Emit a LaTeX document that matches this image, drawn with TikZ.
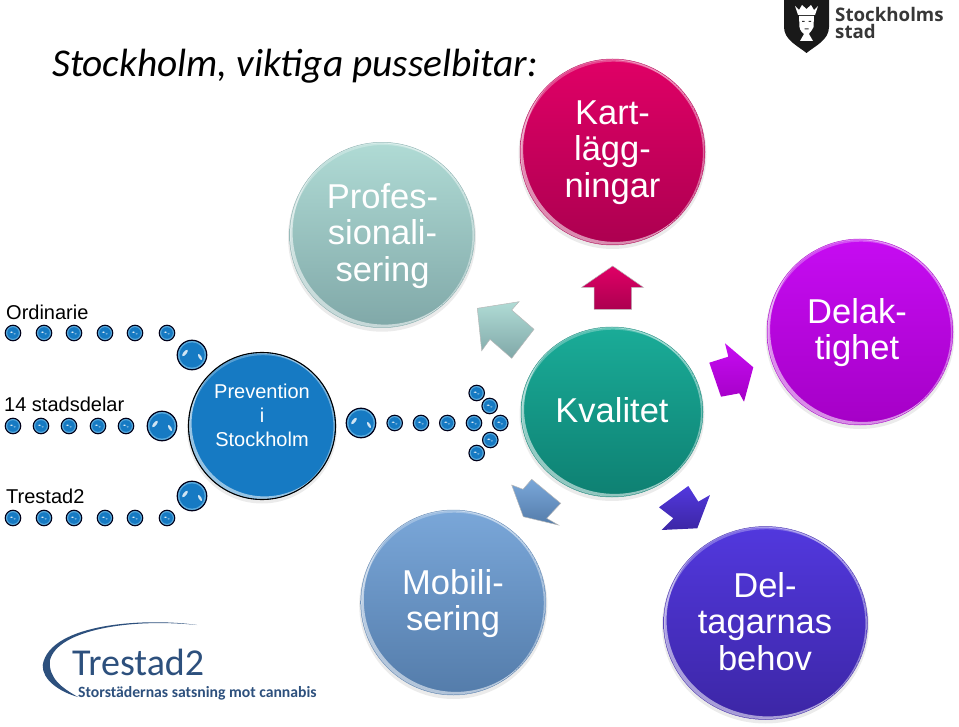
\documentclass[tikz,border=0pt]{standalone}
\usepackage{fontspec}
\setmainfont{Liberation Sans}
\newfontfamily\carlito{Carlito}
\newfontfamily\logofont{Open Sans}
\usetikzlibrary{shapes.geometric,calc}
\definecolor{dotblue}{RGB}{22,122,195}
\definecolor{dotrim}{RGB}{90,170,220}
\definecolor{logoblue}{RGB}{45,80,125}
\definecolor{logogray}{RGB}{55,55,55}
\definecolor{kartA}{RGB}{224,0,102}
\definecolor{kartB}{RGB}{172,0,80}
\definecolor{profA}{RGB}{176,219,213}
\definecolor{profB}{RGB}{128,168,168}
\definecolor{delA}{RGB}{198,12,242}
\definecolor{delB}{RGB}{165,0,198}
\definecolor{kvaA}{RGB}{26,172,152}
\definecolor{kvaB}{RGB}{14,128,114}
\definecolor{mobA}{RGB}{122,167,217}
\definecolor{mobB}{RGB}{84,124,170}
\definecolor{deltA}{RGB}{82,56,222}
\definecolor{deltB}{RGB}{60,38,165}
\tikzset{
  bigtext/.style={text=white,align=center,font=\fontsize{34.5}{36.5}\selectfont},
  smalltext/.style={text=white,align=center,font=\fontsize{20}{24}\selectfont},
  lab/.style={text=black,anchor=base west,inner sep=0pt,font=\fontsize{20}{24}\selectfont},
  bevel/.style={draw=white!72!black,line width=.5pt},
  sdot/.style={circle,draw=black!90!blue,line width=1.1pt,minimum size=15.5pt,inner sep=0pt,fill=dotrim},
  bdot/.style={circle,draw=black!90!blue,line width=1.2pt,minimum size=29.5pt,inner sep=0pt,fill=dotrim},
}
% crescent highlight: x, y, rx, ry, dx, dy, opacity (the part of the disc not covered by the disc moved by dx, dy)
\newcommand{\Cres}[7]{%
  \begin{scope}
    \clip (#1,#2) ellipse [x radius=#3-.5,y radius=#4-.5];
    \fill[white,opacity=#7,even odd rule] (#1,#2) ellipse [x radius=#3-.5,y radius=#4-.5]
      ({#1+(#5)},{#2+(#6)}) ellipse [x radius=#3-.5,y radius=#4-.5];
  \end{scope}
}
% ball: name, x, y, rx, ry, top colour, bottom colour
\newcommand{\Ball}[7]{%
  \fill[black,opacity=.08] (#2,#3+2.5) ellipse [x radius=#4+1.5,y radius=#5+1.5];
  \node[ellipse,minimum width=2*#4 pt,minimum height=2*#5 pt,inner sep=0pt,top color=#6,bottom color=#7,draw=#7!80!white,line width=.5pt] (#1) at (#2,#3) {};
  \Cres{#2}{#3}{#4}{#5}{1}{2.2}{.28}
  \Cres{#2}{#3}{#4}{#5}{2.6}{-2.6}{.55}
  \Cres{#2}{#3}{#4}{#5}{-1.6}{.6}{.4}
}
\newcommand{\SDot}[3]{%
  \node[sdot] (#1) at (#2,#3) {};
  \fill[dotblue] (#2,#3) circle [radius=5.8];
  \fill[white,opacity=.85] (#2-1.5,#3-.8) ellipse [x radius=1.7,y radius=.7];
  \fill[white,opacity=.6] (#2+1.6,#3+.9) ellipse [x radius=1.3,y radius=.6];
}
\newcommand{\BDot}[3]{%
  \node[bdot] (#1) at (#2,#3) {};
  \fill[dotblue] (#2,#3) circle [radius=12.6];
  \fill[white,opacity=.8,rotate around={50:(#2-7,#3-2)}] (#2-7,#3-2) ellipse [x radius=4,y radius=1.6];
  \fill[white,opacity=.8,rotate around={-60:(#2+8,#3+2)}] (#2+8,#3+2) ellipse [x radius=3.4,y radius=1.3];
}
\begin{document}
\begin{tikzpicture}[x=1pt,y=-1pt]
\useasboundingbox (0,0) rectangle (959,727);

% title
\node[anchor=base west,inner sep=0pt,font=\carlito\itshape\fontsize{39.4}{44}\selectfont] (title) at (52,76.7) {Stockholm, viktiga pusselbitar:};

% main circles
\Ball{kart}{612.5}{152}{92.5}{93}{kartA}{kartB}
\Ball{prof}{382}{235}{92.5}{92.7}{profA}{profB}
\Ball{del}{860}{332}{93}{93}{delA}{delB}
\Ball{kva}{612}{412}{91}{85}{kvaA}{kvaB}
\Ball{mob}{453.3}{602.5}{92.6}{92.5}{mobA}{mobB}
\Ball{delt}{765.5}{623}{102}{96.5}{deltA}{deltB}
\Ball{prev}{262}{426}{73.5}{73.5}{dotblue}{dotblue}
\draw[black,line width=1.1pt] (prev.center) circle [radius=73.5];
\node[bigtext] (kartT) at (612.5,152.7) {Kart-\\lägg-\\ningar};
\node[bigtext] (profT) at (382.5,236) {Profes-\\sionali-\\sering};
\node[bigtext] (delT) at (857,332.5) {Delak-\\tighet};
\node[bigtext] (kvaT) at (612,410.5) {Kvalitet};
\node[bigtext] (mobT) at (453,603.5) {Mobili-\\sering};
\node[bigtext] (deltT) at (765,621.5) {Del-\\tagarnas\\behov};
\node[smalltext] (prevT) at (262,415.6) {Prevention\\i\\Stockholm};

% block arrows
\path[top color=kartA,bottom color=kartB,bevel]
 (581.7,287.3) -- (612.7,266) -- (643.3,287.3) -- (631.7,287.3) -- (631.7,309.3) -- (594,309.3) -- (594,287.3) -- cycle;
\path[top color=profA,bottom color=profB,bevel]
 (519,301.7) -- (477.3,308.3) -- (481.7,350.7) -- (490,339.3) -- (511.7,358.3) -- (534,329.3) -- (511.7,310) -- cycle;
\path[top color=delA,bottom color=delB]
 (725,343.3) -- (753.3,367.3) -- (744,401.7) -- (739.3,393.3) -- (721,396.7) -- (709.3,362.7) -- (728.3,356.7) -- cycle;
\path[top color=deltA,bottom color=deltB]
 (710,495) -- (697.3,528.3) -- (661.7,530) -- (673.3,518.3) -- (659,507.3) -- (688.3,486) -- (698.3,501.7) -- cycle;
\path[top color=mobA,bottom color=mobB,bevel]
 (511.7,485) -- (523,489.3) -- (531.7,479.3) -- (560.7,503.3) -- (546.7,518.3) -- (558.3,525) -- (523.3,516.7) -- cycle;

% dots, left
\foreach \n/\x in {a/13,b/44,c/74,d/105,e/135,f/167}{\SDot{o\n}{\x}{333}}
\foreach \n/\x in {a/13,b/41,c/69,d/98,e/126}{\SDot{s\n}{\x}{426}}
\foreach \n/\x in {a/13,b/44,c/74,d/105,e/135,f/167}{\SDot{t\n}{\x}{518}}
\BDot{bo}{192}{355}
\BDot{bs}{162}{426}
\BDot{bt}{192}{496}
% dots, right
\BDot{br}{361}{423}
\foreach \n/\x/\y in {a/394.7/423,b/421/423,c/447.3/423,d/474/423,e/500.3/423,f/476.7/393,g/489.7/406,h/490.3/440,i/476.7/453}{\SDot{r\n}{\x}{\y}}

% labels
\node[lab] (ordL) at (6,319.5) {Ordinarie};
\node[lab] (stadsL) at (4,411.5) {14 stadsdelar};
\node[lab] (treL) at (6,503) {Trestad2};

% Stockholms stad logo
\fill[black!90] (784,0) -- (829,0) -- (829,27) .. controls (829,40) and (815,46) .. (806.5,53) .. controls (798,46) and (784,40) .. (784,27) -- cycle;
\fill[white] (795,6) -- (799,10) -- (802,5) -- (806.5,9) -- (811,5) -- (814,10) -- (818,6) -- (815,15) -- (798,15) -- cycle;
\fill[white] (799,16) -- (814,16) -- (813.5,27) .. controls (812,31) and (809,33) .. (809,34) -- (813,41) -- (800,41) -- (804,34) .. controls (803,33) and (800,31) .. (799.5,27) -- cycle;
\fill[black!80] (802,21) rectangle (804.5,22) (808.5,21) rectangle (811,22) (804.5,28.5) rectangle (808.5,29.3);
\node[anchor=north west,inner sep=0pt,align=left,text=logogray,font=\logofont\bfseries\fontsize{18.7}{16.8}\selectfont] (sthlm) at (835,7.3) {Stockholms\\stad};

% Trestad2 logo
\fill[logoblue] (197,625) .. controls (150,618) and (50,622) .. (42.7,665) .. controls (42,680) and (60,692) .. (78,697) .. controls (62,688) and (48,678) .. (50,660) .. controls (58,630) and (130,618) .. (197,625) -- cycle;
\node[anchor=base west,inner sep=0pt,text=logoblue,font=\carlito\fontsize{38}{40}\selectfont] (tre) at (72,675) {Trestad2};
\node[anchor=base west,inner sep=0pt,text=logoblue,font=\carlito\bfseries\fontsize{15.7}{16}\selectfont] (sats) at (78,697) {Storstädernas satsning mot cannabis};
\end{tikzpicture}
\end{document}
